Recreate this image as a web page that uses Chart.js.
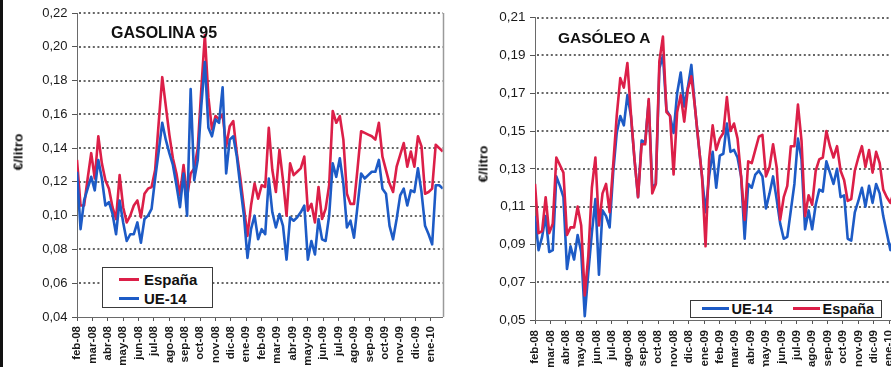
<!DOCTYPE html>
<html lang="es">
<head>
<meta charset="utf-8">
<title>Diferencial de precios antes de impuestos</title>
<script src="https://cdn.jsdelivr.net/npm/chart.js@4.4.1/dist/chart.umd.min.js"></script>
<style>
  html, body { margin: 0; padding: 0; background: #fff; }
  body { position: relative; width: 891px; height: 367px; overflow: hidden; font-family: "Liberation Sans", Arial, sans-serif; color: #111; }
  .edge { position: absolute; left: 0; top: 0; width: 3px; height: 367px; background: #111; }
  .panel { position: absolute; top: 0; }
  .title { position: absolute; font-weight: bold; line-height: 1; white-space: nowrap; }
  .ytitle { position: absolute; font-weight: bold; font-size: 13.5px; white-space: nowrap; transform: translate(-50%, -50%) rotate(-90deg); }
  .legend { position: absolute; box-sizing: border-box; border: 1.5px solid #3a3a3a; background: #fff; font-weight: bold; }
  .legend .row { display: flex; align-items: center; white-space: nowrap; }
  .legend .swatch { display: inline-block; height: 3px; }
</style>
</head>
<body>
<div class="edge"></div>

<div class="panel" style="left:0">
  <canvas id="gasolinaChart" width="450" height="367"></canvas>
</div>
<div class="panel" style="left:455px">
  <canvas id="gasoleoChart" width="455" height="367"></canvas>
</div>

<div class="title" style="left:111px; top:25px; font-size:16px">GASOLINA 95</div>
<div class="title" style="left:558px; top:30px; font-size:15.5px">GASÓLEO A</div>

<div class="ytitle" style="left:18px; top:152px">€/litro</div>
<div class="ytitle" style="left:483px; top:164px">€/litro</div>

<div class="legend" style="left:102px; top:267px; width:111px; height:41px; padding:2px 0 0 16px; font-size:15px">
  <div class="row" style="height:19.3px"><span class="swatch" style="width:20px; background:#dc1f48"></span><span style="margin-left:5px">España</span></div>
  <div class="row" style="height:19.3px"><span class="swatch" style="width:20px; background:#1d5bc6"></span><span style="margin-left:5px">UE-14</span></div>
</div>
<div class="legend" style="left:690px; top:300px; width:192px; height:18px; padding-left:10.5px; font-size:14.5px">
  <div class="row" style="height:15px">
    <span class="swatch" style="width:27px; background:#1d5bc6"></span><span style="margin-left:3px">UE-14</span>
    <span class="swatch" style="width:27px; margin-left:20px; background:#dc1f48"></span><span style="margin-left:3px">España</span>
  </div>
</div>

<script>
// semanas desde feb-08 hasta ene-10, etiquetas mensuales en el eje X
const months = ['feb-08', 'mar-08', 'abr-08', 'may-08', 'jun-08', 'jul-08', 'ago-08', 'sep-08', 'oct-08', 'nov-08', 'dic-08', 'ene-09',
  'feb-09', 'mar-09', 'abr-09', 'may-09', 'jun-09', 'jul-09', 'ago-09', 'sep-09', 'oct-09', 'nov-09', 'dic-09', 'ene-10']

const gasolinaTicks = [0.04, 0.06, 0.08, 0.10, 0.12, 0.14, 0.16, 0.18, 0.20, 0.22]
const gasoleoTicks = [0.05, 0.07, 0.09, 0.11, 0.13, 0.15, 0.17, 0.19, 0.21]

// GASOLINA 95 (€/litro)
const gasolinaEspana = [
  0.133, 0.106, 0.106, 0.122, 0.137, 0.122, 0.147, 0.131, 0.121, 0.116,
  0.105, 0.098, 0.124, 0.105, 0.096, 0.100, 0.106, 0.109, 0.099, 0.113,
  0.116, 0.117, 0.127, 0.155, 0.182, 0.165, 0.148, 0.134, 0.125, 0.112,
  0.130, 0.111, 0.125, 0.128, 0.140, 0.175, 0.207, 0.170, 0.151, 0.159,
  0.157, 0.160, 0.141, 0.153, 0.156, 0.137, 0.122, 0.105, 0.088, 0.106,
  0.119, 0.110, 0.118, 0.117, 0.152, 0.127, 0.114, 0.139, 0.121, 0.100,
  0.131, 0.124, 0.126, 0.128, 0.135, 0.103, 0.107, 0.096, 0.117, 0.098,
  0.104, 0.118, 0.162, 0.155, 0.159, 0.145, 0.113, 0.107, 0.107, 0.128,
  0.150, 0.149, 0.148, 0.147, 0.145, 0.155, 0.135, 0.127, 0.119, 0.114,
  0.129, 0.136, 0.143, 0.129, 0.138, 0.129, 0.147, 0.141, 0.113, 0.114,
  0.116, 0.142, 0.140, 0.138
]
const gasolinaUE14 = [
  0.126, 0.092, 0.109, 0.116, 0.123, 0.115, 0.133, 0.122, 0.106, 0.108,
  0.101, 0.089, 0.109, 0.096, 0.085, 0.089, 0.089, 0.096, 0.084, 0.098,
  0.100, 0.104, 0.122, 0.138, 0.155, 0.145, 0.137, 0.130, 0.118, 0.105,
  0.125, 0.100, 0.175, 0.121, 0.133, 0.165, 0.191, 0.152, 0.147, 0.157,
  0.155, 0.176, 0.125, 0.145, 0.147, 0.135, 0.117, 0.100, 0.075, 0.092,
  0.100, 0.086, 0.092, 0.089, 0.122, 0.102, 0.093, 0.101, 0.094, 0.074,
  0.099, 0.097, 0.099, 0.102, 0.106, 0.074, 0.085, 0.077, 0.098, 0.086,
  0.085, 0.100, 0.131, 0.123, 0.134, 0.119, 0.093, 0.097, 0.087, 0.106,
  0.125, 0.122, 0.124, 0.126, 0.126, 0.133, 0.116, 0.113, 0.094, 0.086,
  0.098, 0.112, 0.116, 0.106, 0.115, 0.114, 0.128, 0.114, 0.094, 0.089,
  0.083, 0.118, 0.118, 0.116
]

// GASÓLEO A (€/litro)
const gasoleoEspana = [
  0.122, 0.096, 0.097, 0.115, 0.096, 0.101, 0.136, 0.132, 0.128, 0.095,
  0.099, 0.099, 0.110, 0.100, 0.063, 0.084, 0.120, 0.136, 0.100, 0.117,
  0.122, 0.107, 0.132, 0.158, 0.178, 0.173, 0.186, 0.159, 0.135, 0.115,
  0.143, 0.143, 0.167, 0.117, 0.122, 0.187, 0.200, 0.160, 0.158, 0.127,
  0.160, 0.169, 0.155, 0.172, 0.179, 0.163, 0.144, 0.126, 0.089, 0.135,
  0.153, 0.140, 0.146, 0.149, 0.168, 0.150, 0.154, 0.146, 0.126, 0.103,
  0.134, 0.133, 0.140, 0.147, 0.148, 0.126, 0.131, 0.143, 0.131, 0.103,
  0.115, 0.121, 0.142, 0.142, 0.164, 0.145, 0.105, 0.116, 0.111, 0.129,
  0.135, 0.136, 0.150, 0.142, 0.136, 0.142, 0.129, 0.124, 0.113, 0.114,
  0.129, 0.136, 0.142, 0.131, 0.140, 0.128, 0.139, 0.133, 0.119, 0.115,
  0.112, 0.118, 0.130, 0.135
]
const gasoleoUE14 = [
  0.105, 0.087, 0.094, 0.105, 0.086, 0.087, 0.126, 0.121, 0.115, 0.077,
  0.089, 0.082, 0.095, 0.086, 0.052, 0.075, 0.096, 0.114, 0.074, 0.108,
  0.105, 0.099, 0.128, 0.149, 0.158, 0.153, 0.169, 0.158, 0.135, 0.115,
  0.145, 0.144, 0.166, 0.120, 0.122, 0.183, 0.190, 0.161, 0.158, 0.149,
  0.170, 0.181, 0.163, 0.173, 0.185, 0.163, 0.144, 0.126, 0.107, 0.126,
  0.139, 0.120, 0.137, 0.138, 0.154, 0.139, 0.140, 0.136, 0.126, 0.093,
  0.122, 0.120, 0.127, 0.129, 0.126, 0.109, 0.117, 0.126, 0.114, 0.101,
  0.093, 0.094, 0.108, 0.122, 0.146, 0.135, 0.098, 0.108, 0.098, 0.111,
  0.119, 0.118, 0.134, 0.128, 0.122, 0.130, 0.115, 0.116, 0.093, 0.092,
  0.107, 0.113, 0.120, 0.110, 0.121, 0.112, 0.122, 0.117, 0.105, 0.096,
  0.087, 0.095, 0.110, 0.118
]

const RED = '#dc1f48'
const BLUE = '#1d5bc6'
const WEEKS_PER_MONTH = 52 / 12

Chart.defaults.font.family = '"Liberation Sans", Arial, sans-serif'
Chart.defaults.color = '#1a1a1a'

/**
 * Serie semanal -> puntos {x: semana, y: valor}
 * @param {number[]} values
 */
const weekly = values => values.map((v, i) => ({ x: i, y: v }))

const series = (label, values, color) => ({
  label,
  data: weekly(values),
  borderColor: color,
  backgroundColor: color,
  borderWidth: 2.6,
  borderJoinStyle: 'round',
  pointRadius: 0,
  tension: 0,
  fill: false
})

// líneas de rejilla punteadas en cada marca del eje Y
const dottedGrid = {
  id: 'dottedGrid',
  beforeDatasetsDraw(chart) {
    const { ctx, chartArea: a } = chart
    const y = chart.scales.y
    ctx.save()
    ctx.strokeStyle = '#666'
    ctx.lineWidth = 2
    ctx.setLineDash([2, 2.6])
    for (const t of y.ticks) {
      const py = Math.round(y.getPixelForValue(t.value))
      if (py > a.bottom - 2) continue
      ctx.beginPath()
      ctx.moveTo(a.left + 2, py)
      ctx.lineTo(a.right, py)
      ctx.stroke()
    }
    ctx.restore()
  }
}

// marco derecho del área de trazado
const plotFrame = {
  id: 'plotFrame',
  afterDraw(chart) {
    const { ctx, chartArea: a } = chart
    ctx.save()
    ctx.strokeStyle = '#9a9a9a'
    ctx.lineWidth = 1.5
    ctx.beginPath()
    ctx.moveTo(Math.round(a.right) + 0.5, a.top)
    ctx.lineTo(Math.round(a.right) + 0.5, a.bottom)
    ctx.stroke()
    ctx.restore()
  }
}

/**
 * @param {string} canvasId
 * @param {object[]} datasets  primer dataset queda encima
 * @param {number[]} yTicks
 * @param {object} box  anchos/paddings del área de trazado
 */
function renderFuelChart(canvasId, datasets, yTicks, box) {
  const lastWeek = datasets[0].data.length - 1
  return new Chart(document.getElementById(canvasId), {
    type: 'line',
    data: { datasets },
    plugins: [dottedGrid, plotFrame],
    options: {
      responsive: false,
      animation: false,
      devicePixelRatio: 1,
      layout: { padding: { left: 0, right: box.right, top: box.top, bottom: 0 } },
      plugins: { legend: { display: false }, title: { display: false } },
      scales: {
        x: {
          type: 'linear',
          min: 0,
          max: lastWeek,
          afterBuildTicks: s => { s.ticks = months.map((m, k) => ({ value: k * WEEKS_PER_MONTH })) },
          afterFit: s => { s.height = box.xHeight },
          ticks: {
            autoSkip: false,
            minRotation: 90,
            maxRotation: 90,
            padding: box.xPad,
            font: { size: 11.5, weight: 'bold' },
            callback: (v, i) => months[i]
          },
          grid: { drawOnChartArea: false, tickLength: 4, tickColor: '#555', tickBorderDash: [] },
          border: { color: '#6a6a6a', width: 1 }
        },
        y: {
          min: yTicks[0],
          max: yTicks[yTicks.length - 1],
          afterBuildTicks: s => { s.ticks = yTicks.map(v => ({ value: v })) },
          afterFit: s => { s.width = box.yWidth },
          ticks: {
            padding: 4.5,
            font: { size: box.yFont },
            callback: v => v.toFixed(2).replace('.', ',')
          },
          grid: { drawOnChartArea: false, tickLength: 5, tickColor: '#555', tickBorderDash: [] },
          border: { color: '#6a6a6a', width: 1 }
        }
      }
    }
  })
}

renderFuelChart('gasolinaChart', [
  series('UE-14', gasolinaUE14, BLUE),
  series('España', gasolinaEspana, RED)
], gasolinaTicks, { right: 7, top: 13, yWidth: 77, xHeight: 50, xPad: 5, yFont: 13 })

renderFuelChart('gasoleoChart', [
  series('España', gasoleoEspana, RED),
  series('UE-14', gasoleoUE14, BLUE)
], gasoleoTicks, { right: 9, top: 17.7, yWidth: 80, xHeight: 47, xPad: 6, yFont: 13.5 })
</script>
</body>
</html>
